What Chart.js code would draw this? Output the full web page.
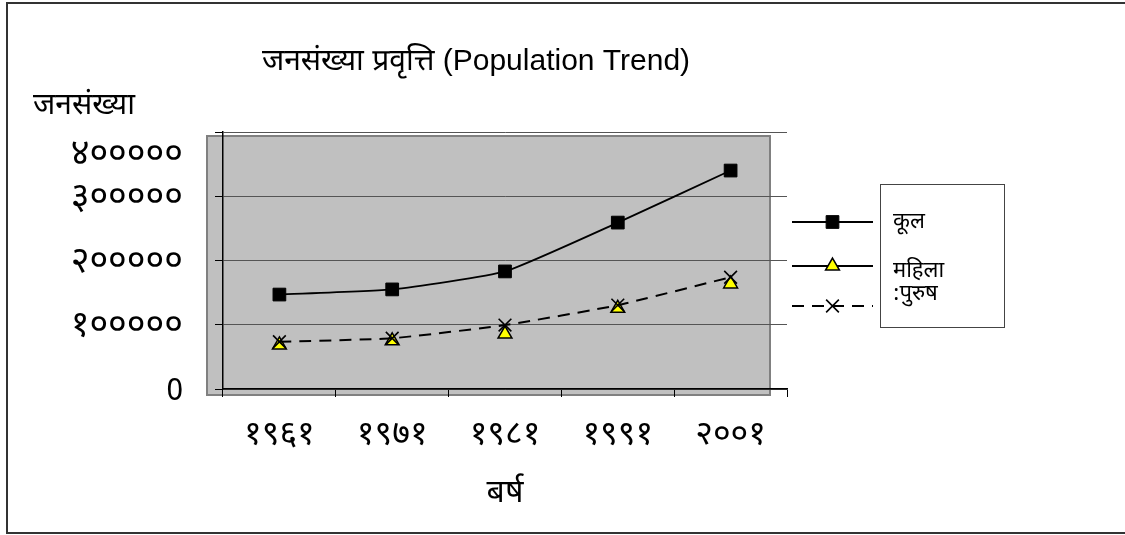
<!DOCTYPE html>
<html>
<head>
<meta charset="utf-8">
<script src="https://cdn.jsdelivr.net/npm/chart.js@4.4.0/dist/chart.umd.min.js"></script>
<style>
  html, body { margin: 0; padding: 0; background: #fff; }
  #wrap { width: 1125px; height: 535px; }
</style>
</head>
<body>
<div id="wrap"><canvas id="popChart" width="1125" height="535"></canvas></div>
<script>
// data
const years = ['१९६१', '१९७१', '१९८१', '१९९१', '२००१'];
const totalPop = [147000, 155000, 183000, 259000, 340000];
const femalePop = [68500, 75000, 85500, 125500, 163500];
const malePop = [73500, 79000, 99500, 130500, 174000];
const yTickLabels = ['0', '१०००००', '२०००००', '३०००००', '४०००००'];
const seriesNames = ['कूल', 'महिला', ':पुरुष'];

const devFont = '"Noto Sans Devanagari", "Lohit Devanagari", "Mangal", "Liberation Sans", sans-serif';
const mixFont = '"Liberation Sans", "Noto Sans Devanagari", "Lohit Devanagari", sans-serif';

// grey plot box, drawn offset from the axes like the original
const plotBack = {
  id: 'plotBack',
  beforeDraw(chart) {
    const { ctx, chartArea: a } = chart;
    ctx.save();
    ctx.fillStyle = '#c0c0c0';
    ctx.fillRect(a.left - 16, a.top + 4, a.right - a.left - 1, a.bottom - a.top + 2);
    ctx.strokeStyle = '#808080';
    ctx.lineWidth = 2;
    ctx.strokeRect(a.left - 16, a.top + 4, a.right - a.left - 1, a.bottom - a.top + 2);
    ctx.restore();
  }
};

function pointOpts(ds) {
  return { pointStyle: ds.pointStyle, radius: ds.pointRadius, borderWidth: ds.pointBorderWidth, rotation: 0 };
}

// frame + titles + the odd boxed legend
const extras = {
  id: 'extras',
  afterDraw(chart) {
    const { ctx, chartArea: a } = chart;
    ctx.save();
    ctx.strokeStyle = '#333';
    ctx.lineWidth = 2;
    ctx.strokeRect(7, 3, 1200, 530);

    ctx.fillStyle = '#000';
    ctx.textBaseline = 'middle';
    ctx.textAlign = 'center';
    ctx.font = '30px ' + mixFont;
    ctx.fillText('जनसंख्या प्रवृत्ति (Population Trend)', 476, 62);
    ctx.textAlign = 'left';
    ctx.font = '30px ' + devFont;
    ctx.fillText('जनसंख्या', 33, 108);

    // legend samples
    const rows = [a.top + 90, a.top + 134, a.top + 174];
    const x0 = a.right + 5, x1 = a.right + 86, xm = (x0 + x1) / 2;
    chart.data.datasets.forEach((ds, i) => {
      ctx.save();
      ctx.strokeStyle = '#000';
      ctx.lineWidth = 2;
      ctx.setLineDash(ds.borderDash || []);
      ctx.beginPath();
      ctx.moveTo(x0, rows[i]);
      ctx.lineTo(x1, rows[i]);
      ctx.stroke();
      ctx.restore();
      ctx.fillStyle = ds.pointBackgroundColor;
      ctx.strokeStyle = ds.pointBorderColor;
      ctx.lineWidth = ds.pointBorderWidth;
      Chart.helpers.drawPoint(ctx, pointOpts(ds), xm, rows[i]);
    });

    ctx.strokeStyle = '#444';
    ctx.lineWidth = 1;
    ctx.strokeRect(a.right + 93.5, a.top + 52.5, 124, 143);
    ctx.fillStyle = '#000';
    ctx.font = '22px ' + devFont;
    ctx.fillText(seriesNames[0], a.right + 106, a.top + 92);
    ctx.fillText(seriesNames[1], a.right + 106, a.top + 141);
    ctx.fillText(seriesNames[2], a.right + 106, a.top + 164);
    ctx.restore();
  }
};

new Chart(document.getElementById('popChart'), {
  type: 'line',
  data: {
    labels: years,
    datasets: [
      {
        label: seriesNames[0],
        data: totalPop,
        borderColor: '#000',
        borderWidth: 1.8,
        tension: 0.15,
        pointStyle: 'rect',
        pointRadius: 9,
        pointBackgroundColor: '#000',
        pointBorderColor: '#000',
        pointBorderWidth: 1,
        order: 2
      },
      {
        label: seriesNames[1],
        data: femalePop,
        showLine: false,
        borderColor: '#000',
        pointStyle: 'triangle',
        pointRadius: 8,
        pointBackgroundColor: '#ffff00',
        pointBorderColor: '#000',
        pointBorderWidth: 1.5,
        order: 1
      },
      {
        label: seriesNames[2],
        data: malePop,
        borderColor: '#000',
        borderWidth: 2,
        borderDash: [12, 8],
        tension: 0.15,
        pointStyle: 'crossRot',
        pointRadius: 9,
        pointBackgroundColor: '#000',
        pointBorderColor: '#000',
        pointBorderWidth: 1.6,
        order: 0
      }
    ]
  },
  options: {
    responsive: false,
    animation: false,
    layout: { padding: { top: 132, right: 338, left: 0, bottom: 0 } },
    plugins: {
      legend: { display: false },
      title: { display: false },
      tooltip: { enabled: false }
    },
    scales: {
      x: {
        offset: true,
        afterFit: s => { s.height = 146; },
        grid: { offset: true, drawOnChartArea: false, tickLength: 8, color: '#000' },
        border: { color: '#000', width: 1.5 },
        ticks: { color: '#000', padding: 20, font: { family: devFont, size: 34 } },
        title: {
          display: true, text: 'बर्ष', color: '#000',
          font: { family: devFont, size: 32 }, padding: { top: 0, bottom: 20 }
        }
      },
      y: {
        min: 0,
        max: 400000,
        afterFit: s => { s.width = 223; },
        grid: { color: '#555', lineWidth: 1, tickLength: 8, tickColor: '#000' },
        border: { color: '#000', width: 1.5 },
        ticks: {
          stepSize: 100000,
          autoSkip: false,
          color: '#000',
          padding: 32,
          labelOffset: 5,
          font: c => ({ family: devFont, size: c.index === 0 ? 30 : 36, lineHeight: 1.2 }),
          // the top label sits well below its gridline in the original
          callback: (v, i) => (i === 4 ? ['', yTickLabels[i]] : yTickLabels[i])
        }
      }
    }
  },
  plugins: [plotBack, extras]
});
</script>
</body>
</html>
